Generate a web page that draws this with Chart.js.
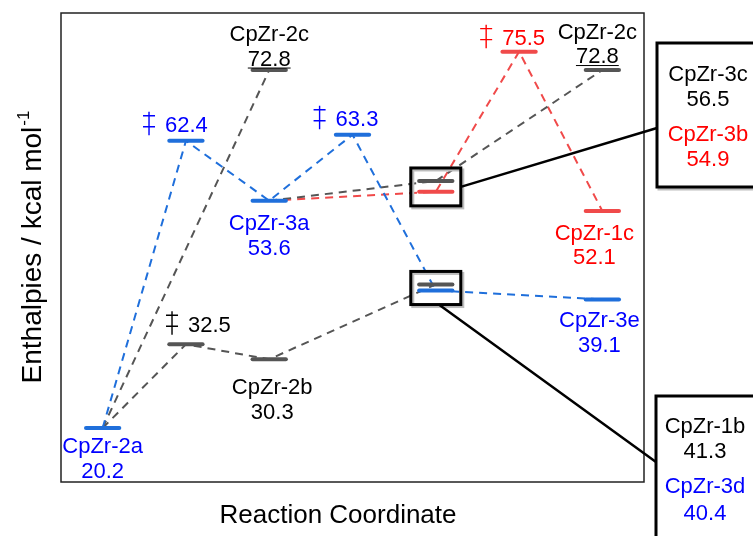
<!DOCTYPE html>
<html>
<head>
<meta charset="utf-8">
<script src="https://cdn.jsdelivr.net/npm/chart.js@4"></script>
<style>
  body { margin: 0; background: #fff; }
  canvas { display: block; }
</style>
</head>
<body>
<canvas id="energy-chart" width="753" height="536"></canvas>
<script>
// species on the enthalpy profile (kcal/mol)
const speciesIds = ['2a', 'ts1', '2b', '2c', 'ts2', '3a', 'ts3', '3c', '3b', '1b', '3d', 'ts4', '2c_r', '1c', '3e'];
const speciesNames = ['CpZr-2a', '', 'CpZr-2b', 'CpZr-2c', '', 'CpZr-3a', '', 'CpZr-3c', 'CpZr-3b', 'CpZr-1b', 'CpZr-3d', '', 'CpZr-2c', 'CpZr-1c', 'CpZr-3e'];
const speciesStep = [0, 1, 2, 2, 1, 2, 3, 4, 4, 4, 4, 5, 6, 6, 6];
const enthalpies = [20.2, 32.5, 30.3, 72.8, 62.4, 53.6, 63.3, 56.5, 54.9, 41.3, 40.4, 75.5, 72.8, 52.1, 39.1];
const speciesSeries = ['blue', 'gray', 'gray', 'gray', 'blue', 'blue', 'blue', 'gray', 'red', 'gray', 'blue', 'red', 'gray', 'red', 'blue'];
const transitionStates = ['ts1', 'ts2', 'ts3', 'ts4'];

// dashed connections between species
const bluePath = ['2a', 'ts2', '3a', 'ts3', '3d', '3e'];
const grayPath1 = ['2a', 'ts1', '2b', '1b'];
const grayPath2 = ['2a', '2c'];
const grayPath3 = ['3a', '3c', '2c_r'];
const redPath = ['3a', '3b', 'ts4', '1c'];

// species shown in the side boxes instead of inline
const upperCallout = ['3c', '3b'];
const lowerCallout = ['1b', '3d'];

const lineColors = { blue: '#1f6fdb', gray: '#555555', red: '#f04a4a' };
const textColors = { blue: '#0000ff', gray: '#000000', red: '#ff0000' };
const FONT = '"Liberation Sans", Arial, sans-serif';

// label offsets in px from level centre (baselines)
const labelLayout = {
    '2a':   { dx: 0,   dy: [25, 50] },
    'ts1':  { dx: 23.5, dy: [-12.5] },
    '2b':   { dx: 3,   dy: [35, 60] },
    '2c':   { dx: 0,   dy: [-29.5, -4.5], underline: true },
    'ts2':  { dx: 0.5, dy: [-8.5] },
    '3a':   { dx: 0,   dy: [29, 54] },
    'ts3':  { dx: 4.5, dy: [-8.5] },
    'ts4':  { dx: 4.5, dy: [-6.5] },
    '2c_r': { dx: -5,  dy: [-31, -7], underline: true },
    '1c':   { dx: -8,  dy: [29, 53] },
    '3e':   { dx: -3,  dy: [28, 53] }
};

const idx = id => speciesIds.indexOf(id);
const point = id => ({ x: speciesStep[idx(id)], y: enthalpies[idx(id)] });

function pathDataset(ids, series) {
    return {
        data: ids.map(point),
        borderColor: lineColors[series],
        borderWidth: 2,
        borderDash: [8, 6],
        pointRadius: 0,
        order: 1
    };
}

const levelDatasets = speciesIds.map((id, i) => ({
    data: [
        { x: speciesStep[i] - 0.2, y: enthalpies[i] },
        { x: speciesStep[i] + 0.2, y: enthalpies[i] }
    ],
    borderColor: lineColors[speciesSeries[i]],
    borderWidth: 4,
    borderCapStyle: 'round',
    pointRadius: 0,
    order: 0
}));

// thin double dagger drawn as strokes, baseline-relative
function drawDagger(ctx, cx, base, color) {
    ctx.save();
    ctx.strokeStyle = color;
    ctx.lineWidth = 1.4;
    ctx.beginPath();
    ctx.moveTo(cx, base - 20.5);
    ctx.lineTo(cx, base + 3);
    ctx.moveTo(cx - 6, base - 16.5);
    ctx.lineTo(cx + 6, base - 16.5);
    ctx.moveTo(cx - 6, base - 5.5);
    ctx.lineTo(cx + 6, base - 5.5);
    ctx.stroke();
    ctx.restore();
}

const annotationsPlugin = {
    id: 'energyAnnotations',
    afterDraw(chart) {
        const { ctx, chartArea: area, scales: { x, y } } = chart;
        const px = id => x.getPixelForValue(speciesStep[idx(id)]);
        const py = id => y.getPixelForValue(enthalpies[idx(id)]);

        ctx.save();

        // frame
        ctx.strokeStyle = '#222';
        ctx.lineWidth = 1.5;
        ctx.strokeRect(area.left, area.top, area.right - area.left, area.bottom - area.top);

        // inline labels
        ctx.font = '22px ' + FONT;
        ctx.textAlign = 'center';
        ctx.textBaseline = 'alphabetic';
        Object.keys(labelLayout).forEach(id => {
            const i = idx(id);
            const lay = labelLayout[id];
            const cx = px(id) + lay.dx;
            const cy = py(id);
            const color = textColors[speciesSeries[i]];
            ctx.fillStyle = color;
            const value = enthalpies[i].toFixed(1);
            if (transitionStates.includes(id)) {
                const w = ctx.measureText(value).width;
                ctx.fillText(value, cx, cy + lay.dy[0]);
                drawDagger(ctx, cx - w / 2 - 16, cy + lay.dy[0], color);
            } else {
                ctx.fillText(speciesNames[i], cx, cy + lay.dy[0]);
                ctx.fillText(value, cx, cy + lay.dy[1]);
                if (lay.underline) {
                    const w = ctx.measureText(value).width;
                    ctx.fillRect(cx - w / 2, cy + lay.dy[1] + 2, w, 1);
                }
            }
        });

        // small boxes around overlapping levels
        function smallBox(ids) {
            const cx = px(ids[0]);
            const ys = ids.map(py);
            const b = { l: cx - 25, r: cx + 25, t: Math.min(...ys) - 13, b: Math.max(...ys) + 14 };
            ctx.lineWidth = 3;
            ctx.strokeStyle = '#bdbdbd';
            ctx.strokeRect(b.l + 2, b.t + 2, b.r - b.l, b.b - b.t);
            ctx.strokeStyle = '#000';
            ctx.strokeRect(b.l, b.t, b.r - b.l, b.b - b.t);
            return b;
        }
        const ub = smallBox(upperCallout);
        const lb = smallBox(lowerCallout);

        // big side boxes
        const boxL = area.right + 13;
        const upper = { l: boxL, t: area.top + 30, b: area.top + 174 };
        const lower = { l: boxL - 1, t: area.top + 383, b: chart.height + 10 };
        [upper, lower].forEach(b => {
            ctx.lineWidth = 3;
            ctx.strokeStyle = '#bdbdbd';
            ctx.strokeRect(b.l + 2, b.t + 2, chart.width + 10 - b.l, b.b - b.t);
            ctx.fillStyle = '#fff';
            ctx.fillRect(b.l, b.t, chart.width + 10 - b.l, b.b - b.t);
            ctx.strokeStyle = '#000';
            ctx.strokeRect(b.l, b.t, chart.width + 10 - b.l, b.b - b.t);
        });

        // leader lines
        ctx.lineWidth = 2.5;
        ctx.strokeStyle = '#000';
        ctx.beginPath();
        ctx.moveTo(ub.r, (ub.t + ub.b) / 2);
        ctx.lineTo(upper.l, upper.t + 85);
        ctx.moveTo(lb.l + 28, lb.b);
        ctx.lineTo(lower.l, lower.t + 66);
        ctx.stroke();

        // side box text
        ctx.font = '22px ' + FONT;
        ctx.textAlign = 'center';
        function boxText(ids, cx, baselines) {
            ids.forEach((id, k) => {
                const i = idx(id);
                ctx.fillStyle = textColors[speciesSeries[i]];
                ctx.fillText(speciesNames[i], cx, baselines[2 * k]);
                ctx.fillText(enthalpies[i].toFixed(1), cx, baselines[2 * k + 1]);
            });
        }
        boxText(upperCallout, boxL + 51, [81, 106, 141, 166].map(v => v + area.top - 13));
        boxText(lowerCallout, boxL + 48, [433, 458, 493, 520].map(v => v + area.top - 13));

        // axis titles
        ctx.fillStyle = '#000';
        ctx.font = '26px ' + FONT;
        ctx.textAlign = 'center';
        ctx.fillText('Reaction Coordinate', area.left + 277, chart.height - 13);

        ctx.translate(41, (area.top + area.bottom) / 2);
        ctx.rotate(-Math.PI / 2);
        const main = 'Enthalpies / kcal mol';
        const sup = '-1';
        ctx.font = '28px ' + FONT;
        const mw = ctx.measureText(main).width;
        ctx.font = '17px ' + FONT;
        const sw = ctx.measureText(sup).width;
        const start = -(mw + sw) / 2;
        ctx.textAlign = 'left';
        ctx.fillText(sup, start + mw + 1, -12);
        ctx.font = '28px ' + FONT;
        ctx.fillText(main, start, 0);

        ctx.restore();
    }
};

new Chart(document.getElementById('energy-chart'), {
    type: 'line',
    data: {
        datasets: [
            ...levelDatasets,
            pathDataset(bluePath, 'blue'),
            pathDataset(grayPath1, 'gray'),
            pathDataset(grayPath2, 'gray'),
            pathDataset(grayPath3, 'gray'),
            pathDataset(redPath, 'red')
        ]
    },
    options: {
        responsive: false,
        animation: false,
        layout: { padding: { left: 61, top: 13, right: 109, bottom: 54 } },
        scales: {
            x: { type: 'linear', min: -0.5, max: 6.5, display: false },
            y: { type: 'linear', min: 12.27, max: 81.18, display: false }
        },
        plugins: {
            legend: { display: false },
            tooltip: { enabled: false }
        }
    },
    plugins: [annotationsPlugin]
});
</script>
</body>
</html>
